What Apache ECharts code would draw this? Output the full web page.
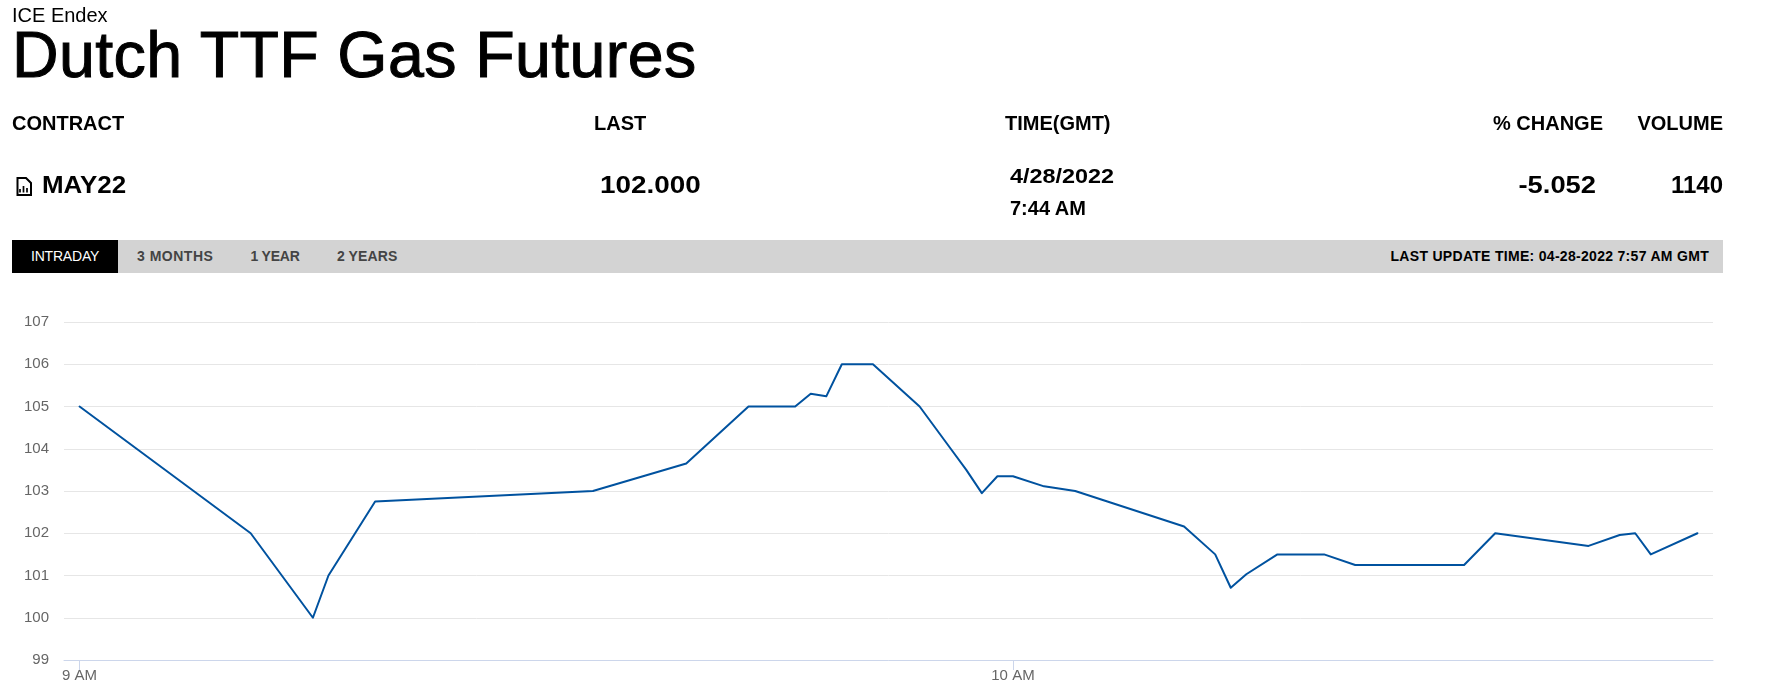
<!DOCTYPE html>
<html><head><meta charset="utf-8"><title>Dutch TTF Gas Futures</title>
<script src="https://cdn.jsdelivr.net/npm/echarts@6/dist/echarts.min.js"></script>
<style>
html,body{margin:0;padding:0;background:#fff;width:1783px;height:692px;overflow:hidden;font-family:"Liberation Sans",Arial,sans-serif;color:#000}
#chart{position:absolute;left:0;top:0;width:1783px;height:692px}
.t{position:absolute;white-space:nowrap;line-height:1}
.h{font-weight:700;font-size:20px;top:113px}
.v{font-weight:700;font-size:24px;top:173px}
.d{font-weight:700;font-size:20px}
#bar{position:absolute;left:12px;top:240px;width:1711px;height:33px;background:#d3d3d3}
#tab{position:absolute;left:12px;top:240px;width:106px;height:33px;background:#000}
.b{font-size:14px;top:249px;font-weight:700;color:#444}
svg{position:absolute}
</style></head><body>
<div id="chart"></div>
<div class="t" style="left:12px;top:5px;font-size:20px">ICE Endex</div>
<div class="t" style="left:12px;top:23px;font-size:64.5px;letter-spacing:.4px;-webkit-text-stroke:1px #000">Dutch TTF Gas Futures</div>
<div class="t h" style="left:12px">CONTRACT</div>
<div class="t h" style="left:594px">LAST</div>
<div class="t h" style="left:1005px">TIME(GMT)</div>
<div class="t h" style="right:180px">% CHANGE</div>
<div class="t h" style="right:60px">VOLUME</div>
<svg style="left:15px;top:176px" width="18" height="21" viewBox="0 0 18 21"><path d="M2.5 2H11L16 7V19H2.5Z" fill="none" stroke="#000" stroke-width="2"/><path d="M5 16.5V13M8.5 16.5V10M12 16.5V12" stroke="#000" stroke-width="1.7"/></svg>
<div class="t v" style="left:42px;transform:scaleX(1.08);transform-origin:0 0">MAY22</div>
<div class="t v" style="left:600px;transform:scaleX(1.16);transform-origin:0 0">102.000</div>
<div class="t d" style="left:1010px;top:166px;transform:scaleX(1.17);transform-origin:0 0">4/28/2022</div>
<div class="t d" style="left:1010px;top:198px">7:44 AM</div>
<div class="t v" style="right:187px;transform:scaleX(1.14);transform-origin:100% 0">-5.052</div>
<div class="t v" style="right:60px">1140</div>
<div id="bar"></div><div id="tab"></div>
<div class="t" style="left:31px;top:249px;font-size:14px;color:#fff;letter-spacing:-.2px">INTRADAY</div>
<div class="t b" style="left:137px;letter-spacing:.5px">3 MONTHS</div>
<div class="t b" style="left:250.5px;letter-spacing:-.2px">1 YEAR</div>
<div class="t b" style="left:337px;letter-spacing:.1px">2 YEARS</div>
<div class="t b" style="right:74px;color:#000;letter-spacing:.3px">LAST UPDATE TIME: 04-28-2022 7:57 AM GMT</div>
<script>
const minutesAfterNine = [0,11,15,16,19,33,39,43,46,47,48,49,51,54,56,57,58,59,60,62,64,71,73,74,75,77,80,82,89,91,97,99,100,101,104];
const prices = [105,102,100,101,102.75,103,103.65,105,105,105.3,105.24,106,106,105,104,103.5,102.95,103.35,103.35,103.11,103,102.16,101.5,100.71,101.03,101.5,101.5,101.25,101.25,102,101.7,101.96,102,101.5,102];
const xTickValues = [0,60];
const xTickLabels = {0:'9 AM',60:'10 AM'};
const yMin = 99, yMax = 107, yStep = 1;

const chart = echarts.init(document.getElementById('chart'));
chart.setOption({
  animation:false,
  grid:{left:64,right:70,top:322,bottom:32,containLabel:false},
  xAxis:{type:'value',min:-1,max:105,
    splitLine:{show:false},
    axisLine:{show:true,lineStyle:{color:'#ccd6eb',width:1}},
    axisTick:{show:true,length:10,customValues:xTickValues,lineStyle:{color:'#ccd6eb',width:1}},
    axisLabel:{show:true,customValues:xTickValues,formatter:v=>xTickLabels[v],color:'#666',fontSize:15,fontFamily:'Liberation Sans',margin:8,hideOverlap:false}
  },
  yAxis:{type:'value',min:yMin,max:yMax,interval:yStep,
    axisLine:{show:false},axisTick:{show:false},
    splitLine:{show:true,lineStyle:{color:'#e6e6e6',width:1}},
    axisLabel:{color:'#666',fontSize:15,fontFamily:'Liberation Sans',margin:15}
  },
  series:[{type:'line',data:minutesAfterNine.map((m,i)=>[m,prices[i]]),
    showSymbol:false,symbol:'none',smooth:false,lineStyle:{color:'#00529f',width:2,cap:'round',join:'round'}}]
});
</script>
</body></html>
